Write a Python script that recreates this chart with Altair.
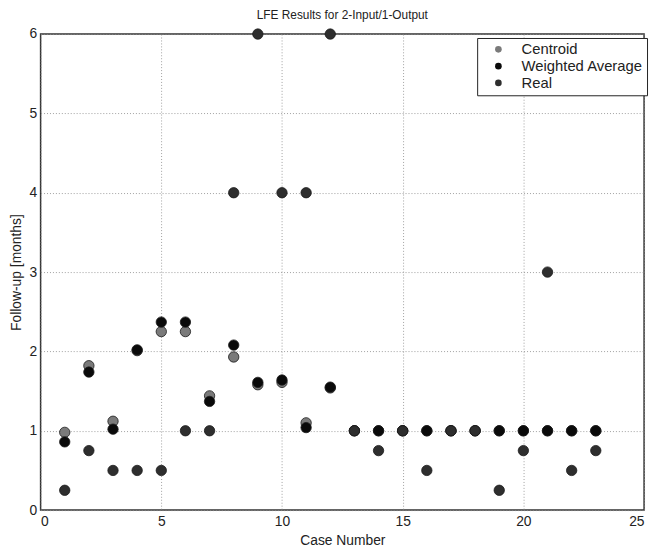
import altair as alt
import pandas as pd

cases = list(range(1, 24))
centroid = [0.98, 1.82, 1.12, 2.01, 2.25, 2.25, 1.44, 1.93, 1.58, 1.61, 1.10, 1.54,
            1.0, 1.0, 1.0, 1.0, 1.0, 1.0, 1.0, 1.0, 1.0, 1.0, 1.0]
weighted = [0.86, 1.74, 1.02, 2.02, 2.37, 2.37, 1.37, 2.08, 1.61, 1.64, 1.04, 1.55,
            1.0, 1.0, 1.0, 1.0, 1.0, 1.0, 1.0, 1.0, 1.0, 1.0, 1.0]
real = [0.25, 0.75, 0.5, 0.5, 0.5, 1.0, 1.0, 4.0, 6.0, 4.0, 4.0, 6.0,
        1.0, 0.75, 1.0, 0.5, 1.0, 1.0, 0.25, 0.75, 3.0, 0.5, 0.75]
series_names = ["Centroid", "Weighted Average", "Real"]
series_colors = ["#7a7a7a", "#0a0a0a", "#2e2e2e"]

rows = []
for name, vals in zip(series_names, [centroid, weighted, real]):
    for c, v in zip(cases, vals):
        rows.append({"case": c, "value": v, "series": name})
df = pd.DataFrame(rows)
df["order"] = df["series"].map({n: i for i, n in enumerate(series_names)})

FONT = "Liberation Sans"

chart = alt.Chart(df).mark_circle(size=110, opacity=1, stroke="#1a1a1a", strokeWidth=0.8).encode(
    x=alt.X("case:Q", title="Case Number",
            scale=alt.Scale(domain=[0, 25], nice=False, zero=False),
            axis=alt.Axis(values=[0, 5, 10, 15, 20, 25], format="d")),
    y=alt.Y("value:Q", title="Follow-up [months]",
            scale=alt.Scale(domain=[0, 6], nice=False),
            axis=alt.Axis(values=[0, 1, 2, 3, 4, 5, 6], format="d")),
    color=alt.Color("series:N",
                    scale=alt.Scale(domain=series_names, range=series_colors),
                    sort=series_names,
                    legend=alt.Legend(title=None, orient="none", legendX=442, legendY=4,
                                      fillColor="white", strokeColor="#222",
                                      padding=4, symbolSize=45, symbolType="circle",
                                      symbolOffset=10,
                                      labelFont=FONT, labelFontSize=15, labelColor="#222",
                                      rowPadding=1, labelOffset=16, symbolStrokeWidth=0,
                                      labelLimit=200)),
    order=alt.Order("order:Q"),
).properties(
    width=611, height=482,
    title=alt.TitleParams("LFE Results for 2-Input/1-Output", font=FONT, fontSize=12,
                          fontWeight="normal", color="#222", offset=5),
    autosize=alt.AutoSizeParams(type="none"),
    padding={"left": 33, "top": 23, "right": 6, "bottom": 36},
).configure_view(
    stroke="#333", strokeWidth=1.5
).configure_axis(
    grid=True, gridColor="#888", gridDash=[1, 2], gridWidth=0.8,
    domain=False, ticks=False,
    labelFont=FONT, labelFontSize=14, labelColor="#222", labelPadding=4,
    titleFont=FONT, titleFontSize=14, titleFontWeight="normal", titleColor="#222",
).configure_axisX(titlePadding=5, labelPadding=5).configure_axisY(titlePadding=6)

chart.save("out.html", embed_options={"renderer": "svg", "actions": False})
